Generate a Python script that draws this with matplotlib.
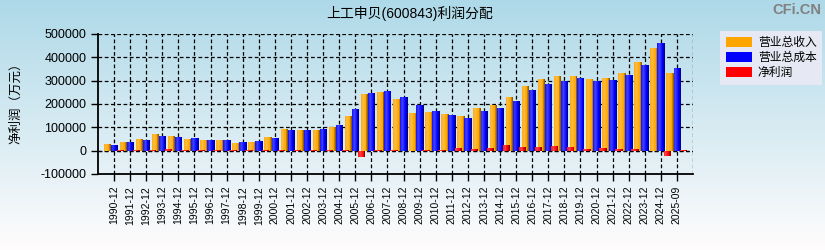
import matplotlib
matplotlib.use("Agg")
import matplotlib.pyplot as plt
from matplotlib.patches import Patch
import numpy as np

plt.rcParams['font.family'] = ['Liberation Sans', 'Noto Sans CJK SC', 'DejaVu Sans']

# --- данные ---
periods = ['1990-12', '1991-12', '1992-12', '1993-12', '1994-12', '1995-12', '1996-12',
           '1997-12', '1998-12', '1999-12', '2000-12', '2001-12', '2002-12', '2003-12',
           '2004-12', '2005-12', '2006-12', '2007-12', '2008-12', '2009-12', '2010-12',
           '2011-12', '2012-12', '2013-12', '2014-12', '2015-12', '2016-12', '2017-12',
           '2018-12', '2019-12', '2020-12', '2021-12', '2022-12', '2023-12', '2024-12',
           '2025-09']
revenue = [30000, 38000, 51000, 72000, 63000, 51000, 46000, 46000, 34000, 37000,
           59000, 93000, 89000, 89000, 101000, 149000, 243000, 251000, 221000, 161000,
           166000, 157000, 149000, 183000, 196000, 230000, 277000, 309000, 321000, 321000,
           309000, 313000, 334000, 381000, 441000, 334000]
cost = [25000, 38000, 46000, 63000, 59000, 55000, 46000, 46000, 38000, 41000,
        54000, 89000, 89000, 93000, 110000, 179000, 247000, 256000, 230000, 196000,
        170000, 153000, 140000, 170000, 183000, 213000, 260000, 287000, 300000, 313000,
        300000, 304000, 326000, 369000, 463000, 356000]
net_profit = [3000, 3000, 3000, 8000, 4000, 3000, 3000, 3000, 3000, 3000,
              3000, 3000, 3000, 3000, 3000, -25000, 3000, 3000, -3000, 3000,
              3000, 11000, 7000, 11000, 24000, 16000, 17000, 21000, 17000, 9000,
              13000, 9000, 9000, -2000, -21000, 4000]

series_names = ['营业总收入', '营业总成本', '净利润']
series_colors = ['#ffa500', '#0000ff', '#ff0000']

W, H = 825, 250
fig = plt.figure(figsize=(W / 100, H / 100), dpi=100)

# фон - градиент сверху вниз
bg = fig.add_axes([0, 0, 1, 1], zorder=-10)
top = np.array([0.68, 0.85, 0.91])
bottom = np.array([1.0, 0.99, 0.99])
t = np.linspace(0, 1, 256)[:, None]
grad = top * (1 - t) + bottom * t
bg.imshow(grad[:, None, :], aspect='auto', extent=[0, 1, 0, 1])
bg.axis('off')

ax = fig.add_axes([98 / W, 76 / H, 595 / W, 140 / H])
ax.set_facecolor('none')

x = np.arange(len(periods))
bar_w = 0.46
offsets = [-0.42, 0.02, 0.40]


def shade(color, f):
    c = np.array(matplotlib.colors.to_rgb(color))
    if f >= 0:
        return tuple(c + (1 - c) * f)
    return tuple(c * (1 + f))


def profile(u):
    # светлый блик слева, тёмная грань справа
    if u < 0.7:
        return 0.25 - 0.25 * abs(u - 0.3) / 0.4
    return -0.55 * (u - 0.7) / 0.3


n_slices = 8
for vals, col, off in zip([revenue, cost, net_profit], series_colors, offsets):
    vals = np.array(vals)
    sw = bar_w / n_slices
    for k in range(n_slices):
        u = (k + 0.5) / n_slices
        ax.bar(x + off - bar_w / 2 + (k + 0.5) * sw, vals, width=sw * 1.02,
               color=shade(col, profile(u)), linewidth=0, zorder=3)

ax.set_xlim(-1, len(periods))
ax.set_ylim(-100000, 500000)
ax.set_yticks(np.arange(-100000, 500001, 100000))
ax.set_yticklabels([str(v) for v in range(-100000, 500001, 100000)], fontsize=9)
ax.set_xticks(x)
ax.set_xticklabels(periods, rotation=90, fontsize=7.5)
ax.grid(True, color='black', linestyle=(0, (3, 2)), linewidth=0.9, zorder=1)
ax.axvline(len(periods), color='black', linestyle=(0, (3, 2)), linewidth=0.9)
ax.axhline(0, color='black', linestyle=(0, (3, 2)), linewidth=0.9, zorder=1)
for s in ['top', 'right']:
    ax.spines[s].set_visible(False)
for s in ['left', 'bottom']:
    ax.spines[s].set_linewidth(1.3)
ax.tick_params(axis='both', length=5, width=1, colors='black')

ax.set_ylabel('净利润（万元）', fontsize=9)
ax.yaxis.set_label_coords(-0.128, 0.53)

fig.text(0.497, 0.946, '上工申贝(600843)利润分配', ha='center', va='center', fontsize=10)
fig.text(0.966, 0.958, 'CFi.CN', ha='center', va='center', fontsize=10.5,
         color='#808080', fontweight='bold')

handles = [Patch(facecolor=c, edgecolor='none') for c in series_colors]
leg = fig.legend(handles, series_names, loc='upper left', bbox_to_anchor=(720 / W, 1 - 31 / H),
                 fontsize=8.5, frameon=True, fancybox=False, handlelength=2.2, handleheight=0.9,
                 handletextpad=0.5, labelspacing=0.25, borderpad=0.5, borderaxespad=0)
leg.get_frame().set_facecolor('#e6e8f3')
leg.get_frame().set_edgecolor('none')
leg.get_frame().set_alpha(1)

fig.savefig('out.png', dpi=100)
